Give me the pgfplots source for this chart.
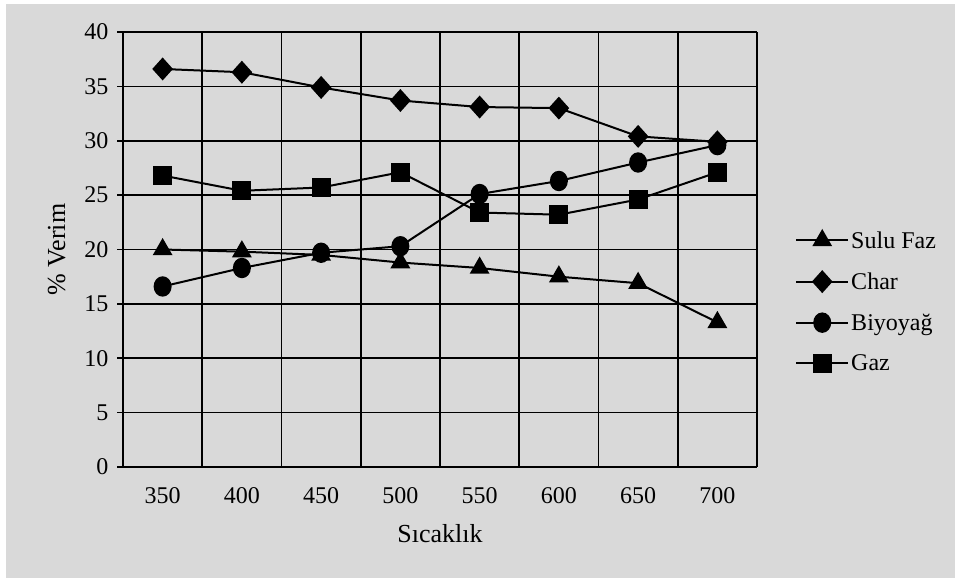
\documentclass[border=0pt]{standalone}
\usepackage{pgfplots}
\pgfplotsset{compat=1.18}
\usepackage{fontspec}
\setmainfont{Liberation Serif}
\definecolor{bg}{HTML}{D9D9D9}
\begin{document}
\begin{tikzpicture}[x=1pt,y=1pt]
\fill[white] (0,0) rectangle (955,578);
\fill[bg] (6,0) rectangle (955,574);
\useasboundingbox (0,0) rectangle (955,578);
\begin{axis}[
  at={(123pt,111pt)}, anchor=south west,
  scale only axis, width=634pt, height=435pt,
  xmin=0.5, xmax=8.5, ymin=0, ymax=40,
  axis lines*=left,
  axis line style={black, line width=1.6pt},
  xtick={1,...,8},
  xticklabels={350,400,450,500,550,600,650,700},
  minor xtick={0.5,1.5,2.5,3.5,4.5,5.5,6.5,7.5,8.5},
  ytick={0,5,...,40},
  tick align=outside,
  major tick length=6pt,
  minor tick length=7pt,
  xtick style={draw=none},
  minor tick style={black, line width=1.6pt},
  ytick style={black, line width=1.6pt},
  grid=both,
  major grid style={black, line width=1.6pt},
  minor grid style={black, line width=1.6pt},
  ymajorgrids=true, xmajorgrids=false, xminorgrids=true,
  /pgf/number format/assume math mode=true,
  ticklabel style={font=\fontsize{24}{27}\selectfont},
  yticklabel style={xshift=-5pt},
  xticklabel style={yshift=-11pt},
  xlabel={Sıcaklık},
  ylabel={\% Verim},
  label style={font=\fontsize{26}{29}\selectfont},
  xlabel style={yshift=-14pt},
  ylabel style={yshift=12pt},
  legend style={draw=none, fill=none, at={(1.06,0.38)}, anchor=west,
    font=\fontsize{24}{27}\selectfont, row sep=19pt, inner sep=0pt},
  legend cell align=left,
  legend image code/.code={\draw[mark repeat=2,mark phase=2,#1] plot coordinates {(0pt,0pt)(26pt,0pt)(52pt,0pt)};},
  every axis plot/.append style={black, line width=2pt, mark options={solid, fill=black}},
  clip=false,
]
\addplot[mark=triangle*, mark size=9.5pt] coordinates {
(1,20.0) (2,19.8) (3,19.5) (4,18.8) (5,18.3) (6,17.5) (7,16.9) (8,13.3)};
\addlegendentry{Sulu Faz}
\addplot[mark=diamond*, mark size=10pt, mark options={xscale=1.2}] coordinates {
(1,36.6) (2,36.3) (3,34.9) (4,33.7) (5,33.1) (6,33.0) (7,30.4) (8,29.9)};
\addlegendentry{Char}
\addplot[mark=*, mark size=8pt, mark options={yscale=1.15}] coordinates {
(1,16.6) (2,18.3) (3,19.7) (4,20.3) (5,25.1) (6,26.3) (7,28.0) (8,29.6)};
\addlegendentry{Biyoyağ}
\addplot[mark=square*, mark size=8.5pt] coordinates {
(1,26.8) (2,25.4) (3,25.7) (4,27.1) (5,23.4) (6,23.2) (7,24.6) (8,27.1)};
\addlegendentry{Gaz}
\end{axis}
\end{tikzpicture}
\end{document}
